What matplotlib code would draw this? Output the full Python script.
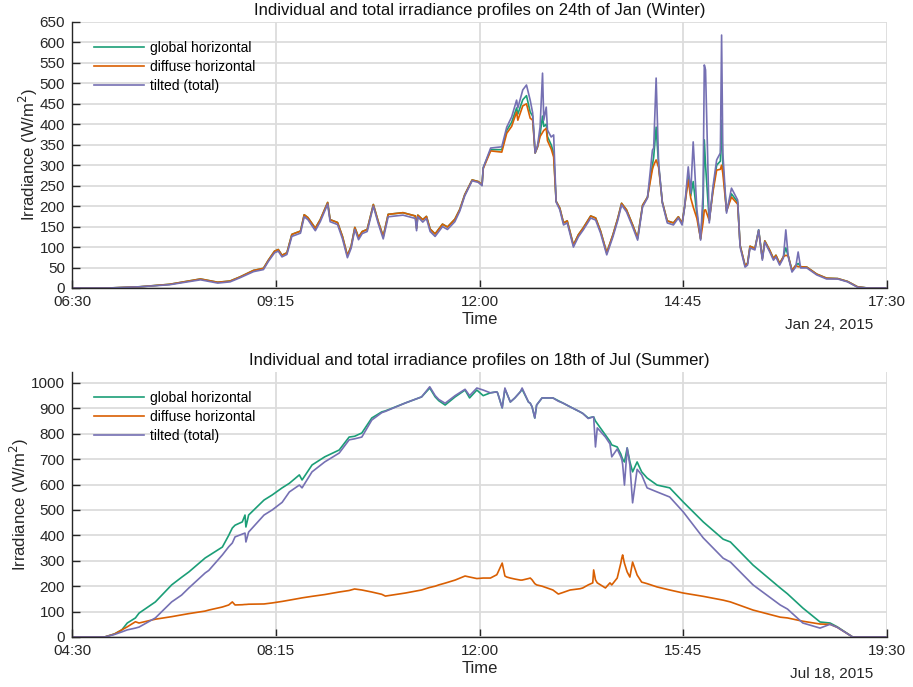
"""Irradiance profiles for a winter and a summer day (global, diffuse, tilted)."""

import matplotlib
matplotlib.use("Agg")
import matplotlib.pyplot as plt

plt.rcParams["font.family"] = ["Liberation Sans", "DejaVu Sans"]

GLOBAL_C = "#1b9e77"
DIFFUSE_C = "#d95f02"
TILTED_C = "#7570b3"

# 24 Jan 2015 (W/m^2)
jan_time = [
    "06:30", "07:00", "07:25", "07:49", "08:14", "08:28", "08:38", "08:46", "08:57", "09:05",
    "09:09", "09:14", "09:17", "09:20", "09:24", "09:28", "09:35", "09:38", "09:41", "09:47",
    "09:51", "09:57", "09:59", "10:05", "10:09", "10:13", "10:16", "10:19", "10:22", "10:25",
    "10:29", "10:34", "10:38", "10:42", "10:46", "10:58", "11:08", "11:09", "11:10", "11:14",
    "11:17", "11:20", "11:24", "11:30", "11:34", "11:40", "11:44", "11:48", "11:54", "11:59",
    "12:02", "12:03", "12:09", "12:18", "12:22", "12:26", "12:30", "12:31", "12:35", "12:38",
    "12:41", "12:43", "12:45", "12:47", "12:49", "12:51", "12:52", "12:54", "12:55", "12:58",
    "13:00", "13:02", "13:05", "13:08", "13:11", "13:16", "13:20", "13:24", "13:30", "13:34",
    "13:38", "13:43", "13:48", "13:52", "13:55", "13:59", "14:04", "14:08", "14:12", "14:16",
    "14:20", "14:21", "14:23", "14:25", "14:28", "14:32", "14:37", "14:41", "14:44", "14:46",
    "14:49", "14:51", "14:53", "14:56", "14:59", "15:01", "15:02", "15:03", "15:06", "15:09",
    "15:12", "15:15", "15:16", "15:17", "15:20", "15:24", "15:29", "15:31", "15:35", "15:37",
    "15:39", "15:43", "15:46", "15:49", "15:51", "15:55", "15:58", "16:00", "16:03", "16:06",
    "16:08", "16:10", "16:13", "16:16", "16:18", "16:20", "16:25", "16:33", "16:41", "16:50",
    "16:58", "17:06", "17:14", "17:30",
]
jan_tilted = [
    0, 0, 3, 8, 20, 12, 15, 25, 40, 45,
    65, 86, 90, 76, 82, 126, 134, 174, 167, 140,
    162, 205, 162, 155, 120, 74, 97, 143, 118, 133,
    138, 200, 157, 120, 174, 178, 170, 140, 174, 161,
    170, 138, 126, 150, 143, 162, 188, 225, 262, 258,
    250, 294, 342, 345, 393, 418, 459, 440, 484, 496,
    459, 428, 330, 349, 393, 525, 410, 442, 386, 369,
    374, 210, 191, 154, 159, 100, 125, 142, 171, 166,
    134, 81, 125, 166, 203, 186, 149, 117, 198, 220,
    337, 342, 513, 305, 208, 159, 154, 171, 154, 196,
    296, 232, 357, 191, 117, 232, 545, 533, 159, 247,
    313, 330, 618, 330, 183, 244, 215, 100, 51, 56,
    98, 93, 142, 68, 112, 88, 68, 76, 56, 73,
    142, 76, 39, 51, 88, 49, 49, 32, 22, 22,
    15, 2, 0, 0,
]
jan_global = [
    0, 0, 3, 9, 22, 14, 17, 27, 43, 48,
    68, 90, 94, 80, 86, 131, 139, 179, 172, 146,
    167, 209, 167, 160, 126, 79, 102, 148, 124, 138,
    143, 204, 162, 126, 180, 184, 176, 146, 178, 167,
    175, 144, 132, 156, 149, 168, 192, 228, 264, 260,
    252, 294, 338, 338, 385, 405, 440, 425, 460, 470,
    430, 420, 330, 345, 375, 420, 395, 400, 370, 350,
    330, 212, 195, 159, 164, 105, 130, 147, 176, 171,
    139, 86, 130, 171, 207, 191, 154, 122, 202, 222,
    300, 320, 393, 300, 210, 164, 159, 174, 158, 198,
    275, 225, 260, 180, 120, 200, 362, 300, 165, 240,
    300, 310, 410, 300, 188, 230, 210, 104, 55, 60,
    102, 97, 142, 72, 115, 92, 72, 80, 60, 76,
    98, 78, 43, 55, 60, 52, 51, 34, 24, 23,
    16, 3, 0, 0,
]
jan_diffuse = [
    0, 0, 3, 9, 22, 14, 17, 27, 43, 48,
    68, 90, 94, 80, 86, 131, 139, 179, 172, 146,
    167, 209, 167, 160, 126, 79, 102, 148, 124, 138,
    143, 204, 162, 126, 180, 184, 176, 146, 178, 167,
    175, 144, 132, 156, 149, 168, 192, 228, 264, 260,
    252, 292, 335, 332, 378, 395, 430, 410, 445, 450,
    415, 410, 330, 345, 370, 380, 385, 390, 360, 340,
    320, 212, 195, 159, 164, 105, 130, 147, 176, 171,
    139, 86, 130, 171, 207, 191, 154, 122, 202, 222,
    290, 300, 313, 295, 210, 164, 159, 174, 158, 198,
    264, 220, 198, 170, 120, 160, 190, 191, 165, 235,
    288, 290, 300, 280, 188, 222, 205, 104, 55, 60,
    102, 97, 140, 72, 115, 92, 72, 80, 60, 76,
    80, 78, 43, 55, 52, 52, 51, 34, 24, 23,
    16, 3, 0, 0,
]
jan_ticks = ["06:30", "09:15", "12:00", "14:45", "17:30"]

# 18 Jul 2015
jul_time = [
    "04:30", "05:06", "05:17", "05:25", "05:31", "05:40", "05:44", "06:02", "06:20", "06:31",
    "06:39", "06:57", "07:01", "07:16", "07:23", "07:27", "07:30", "07:38", "07:41", "07:42",
    "07:45", "08:02", "08:11", "08:22", "08:30", "08:41", "08:44", "08:55", "09:09", "09:25",
    "09:36", "09:42", "09:50", "10:01", "10:12", "10:16", "10:38", "10:53", "10:56", "11:05",
    "11:11", "11:15", "11:22", "11:33", "11:44", "11:49", "11:57", "12:04", "12:12", "12:19",
    "12:20", "12:25", "12:28", "12:30", "12:34", "12:39", "12:45", "12:47", "12:54", "12:56",
    "12:58", "13:01", "13:03", "13:09", "13:21", "13:27", "13:32", "13:40", "13:51", "13:54",
    "14:00", "14:05", "14:06", "14:08", "14:10", "14:19", "14:24", "14:26", "14:32", "14:36",
    "14:37", "14:38", "14:40", "14:43", "14:46", "14:49", "14:54", "14:59", "15:05", "15:16",
    "15:30", "15:45", "16:07", "16:29", "16:37", "17:02", "17:32", "17:40", "17:57", "18:16",
    "18:27", "18:35", "18:52", "19:30",
]
jul_global = [
    0, 0, 12, 28, 55, 75, 94, 138, 205, 235,
    256, 311, 320, 354, 400, 429, 440, 453, 480, 433,
    480, 539, 559, 587, 605, 638, 618, 677, 709, 736,
    787, 790, 803, 862, 886, 890, 921, 941, 945, 980,
    945, 930, 913, 945, 972, 941, 972, 950, 961, 965,
    960, 902, 975, 960, 925, 941, 965, 975, 925, 920,
    906, 862, 913, 941, 941, 930, 921, 906, 886, 880,
    862, 866, 866, 850, 840, 795, 770, 756, 748, 720,
    709, 700, 689, 744, 690, 650, 689, 650, 626, 598,
    587, 531, 453, 385, 374, 283, 193, 170, 114, 59,
    55, 40, 0, 0,
]
jul_diffuse = [
    0, 0, 12, 28, 40, 60, 55, 70, 80, 87,
    92, 102, 106, 118, 126, 138, 126, 127, 128, 128,
    129, 130, 134, 140, 145, 152, 154, 160, 167, 177,
    183, 189, 185, 177, 168, 161, 173, 183, 185, 195,
    200, 205, 212, 224, 240, 236, 230, 232, 232, 245,
    252, 291, 240, 236, 232, 228, 224, 224, 230, 232,
    225, 210, 205, 200, 185, 169, 175, 185, 190, 193,
    205, 213, 264, 225, 213, 193, 213, 205, 232, 291,
    310, 323, 290, 256, 236, 295, 244, 216, 210, 197,
    185, 173, 160, 145, 138, 106, 78, 75, 62, 51,
    50, 38, 0, 0,
]
jul_tilted = [
    0, 0, 10, 20, 28, 35, 39, 75, 138, 165,
    193, 252, 262, 323, 355, 370, 394, 405, 409, 374,
    413, 480, 500, 530, 571, 598, 587, 650, 689, 724,
    776, 780, 787, 854, 883, 888, 921, 941, 945, 985,
    950, 935, 920, 950, 975, 950, 980, 972, 961, 965,
    960, 902, 980, 960, 925, 941, 965, 980, 925, 920,
    906, 862, 913, 941, 941, 928, 921, 906, 886, 880,
    860, 866, 866, 748, 823, 787, 760, 709, 740, 709,
    700, 680, 598, 744, 677, 528, 660, 638, 587, 571,
    551, 492, 390, 310, 295, 205, 126, 110, 55, 35,
    50, 38, 0, 0,
]
jul_ticks = ["04:30", "08:15", "12:00", "15:45", "19:30"]


def hours(stamps):
    out = []
    for s in stamps:
        h, m = s.split(":")
        out.append(int(h) + int(m) / 60.0)
    return out


def style_axes(ax, ticks, ymax, ystep, title, date_text):
    tx = hours(ticks)
    ax.set_xlim(tx[0], tx[-1])
    ax.set_ylim(0, ymax)
    ax.set_xticks(tx)
    ax.set_xticklabels(ticks)
    ax.set_yticks(range(0, int(ymax) + 1, ystep))
    ax.grid(True, color="#dcdcdc", linewidth=1.3)
    ax.set_axisbelow(True)
    for side in ("top", "right"):
        ax.spines[side].set_visible(False)
    for side in ("left", "bottom"):
        ax.spines[side].set_color("#262626")
        ax.spines[side].set_linewidth(1.0)
    ax.tick_params(direction="in", length=6, width=1.0, colors="#262626",
                   labelsize=11, pad=5)
    ax.set_title(title, fontsize=12, color="#111111", pad=5)
    ax.set_xlabel("Time", fontsize=12, color="#262626", labelpad=2)
    ax.set_ylabel("Irradiance (W/m$^2$)", fontsize=12, color="#262626", labelpad=0)
    ax.text(0.983, -0.139, date_text, transform=ax.transAxes, ha="right",
            va="center", fontsize=11, color="#262626")
    ax.legend(loc="upper left", frameon=False, fontsize=10, handlelength=3.6,
              handletextpad=0.4, borderaxespad=0.6, labelspacing=0.35,
              bbox_to_anchor=(0.01, 0.98))


fig = plt.figure(figsize=(9.13, 6.87), dpi=100)
ax1 = fig.add_axes([0.0789, 0.5808, 0.8927, 0.3872])
ax2 = fig.add_axes([0.0789, 0.0728, 0.8927, 0.3857])

tj = hours(jan_time)
ax1.plot(tj, jan_global, color=GLOBAL_C, lw=1.2, label="global horizontal")
ax1.plot(tj, jan_diffuse, color=DIFFUSE_C, lw=1.2, label="diffuse horizontal")
ax1.plot(tj, jan_tilted, color=TILTED_C, lw=1.2, label="tilted (total)")
style_axes(ax1, jan_ticks, 650, 50,
           "Individual and total irradiance profiles on 24th of Jan (Winter)",
           "Jan 24, 2015")

ts = hours(jul_time)
ax2.plot(ts, jul_global, color=GLOBAL_C, lw=1.2, label="global horizontal")
ax2.plot(ts, jul_diffuse, color=DIFFUSE_C, lw=1.2, label="diffuse horizontal")
ax2.plot(ts, jul_tilted, color=TILTED_C, lw=1.2, label="tilted (total)")
style_axes(ax2, jul_ticks, 1043, 100,
           "Individual and total irradiance profiles on 18th of Jul (Summer)",
           "Jul 18, 2015")

fig.savefig("out.png", dpi=100)
